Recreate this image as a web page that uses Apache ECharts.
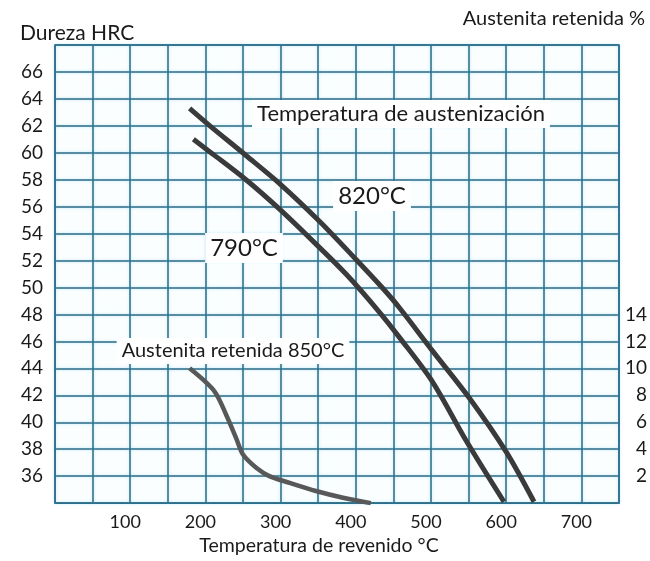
<!DOCTYPE html>
<html>
<head>
<meta charset="utf-8">
<script src="https://cdn.jsdelivr.net/npm/echarts@6/dist/echarts.min.js"></script>
<style>
  html, body { margin: 0; padding: 0; background: #ffffff; }
  #chart { width: 650px; height: 561px; }
</style>
</head>
<body>
<div id="chart"></div>
<script>
// Hardness (HRC) versus tempering temperature (°C) for two austenitizing temperatures
const hrc820 = [[179, 63.3], [206, 62.0], [254, 59.8], [299, 57.7], [352, 54.9], [400, 52.1],
                [435, 50.0], [458, 48.5], [502, 45.3], [551, 41.8], [600, 37.8], [637, 34.1]];
const hrc790 = [[184, 61.0], [210, 59.9], [254, 58.0], [299, 55.8], [342, 53.5], [387, 51.0],
                [431, 48.2], [458, 46.3], [502, 43.0], [546, 38.7], [597, 34.1]];
// Retained austenite (%) after austenitizing at 850 °C, right-hand axis
const austenite850 = [[179, 10.0], [212, 8.3], [228, 6.5], [241, 4.8], [250, 3.6], [268, 2.6],
                      [285, 2.0], [312, 1.5], [347, 0.9], [383, 0.4], [420, 0.0]];

// Tick labels shown on each axis
const xTickLabels = [100, 200, 300, 400, 500, 600, 700];
const hrcTickLabels = [36, 38, 40, 42, 44, 46, 48, 50, 52, 54, 56, 58, 60, 62, 64, 66];
const austeniteTickLabels = [2, 4, 6, 8, 10, 12, 14];

const FONT = 'Lato';
const INK = '#1a1a1a';
const gridColor = '#2a6a85';
const glow = { shadowColor: 'rgba(110, 205, 235, 0.55)', shadowBlur: 3 };

const chart = echarts.init(document.getElementById('chart'), null, { renderer: 'canvas' });

function note(text, x, y, size) {
  return {
    type: 'text', x: x, y: y, z: 10,
    style: {
      text: text, font: size + 'px ' + FONT, fill: INK,
      align: 'center', verticalAlign: 'middle',
      backgroundColor: '#ffffff', padding: [3, 5]
    }
  };
}

const option = {
  backgroundColor: '#ffffff',
  animation: false,
  textStyle: { fontFamily: FONT, color: INK },
  grid: {
    left: 55, right: 30, top: 45, bottom: 56,
    show: true, borderColor: gridColor, borderWidth: 1.6,
    backgroundColor: '#fbfeff'
  },
  xAxis: {
    type: 'value', min: 0, max: 750, interval: 50,
    name: 'Temperatura de revenido °C',
    nameLocation: 'middle', nameGap: 32,
    nameTextStyle: { fontFamily: FONT, fontSize: 19.5, color: INK, padding: [0, 36, 0, 0] },
    axisLine: { show: false }, axisTick: { show: false },
    axisLabel: {
      margin: 10, fontFamily: FONT, fontSize: 18, color: INK, padding: [0, 10, 0, 0],
      formatter: v => (xTickLabels.indexOf(v) >= 0 ? String(v) : '')
    },
    splitLine: { show: true, lineStyle: Object.assign({ color: gridColor, width: 1.5 }, glow) }
  },
  yAxis: [
    {
      type: 'value', min: 34, max: 68, interval: 2, position: 'left',
      axisLine: { show: false }, axisTick: { show: false },
      axisLabel: {
        margin: 12, fontFamily: FONT, fontSize: 19, color: INK,
        formatter: v => (hrcTickLabels.indexOf(v) >= 0 ? String(v) : '')
      },
      splitLine: { show: true, lineStyle: Object.assign({ color: gridColor, width: 1.5 }, glow) }
    },
    {
      type: 'value', min: 0, max: 34, interval: 2, position: 'right',
      axisLine: { show: false }, axisTick: { show: false },
      axisLabel: {
        margin: 28, align: 'right', fontFamily: FONT, fontSize: 19, color: INK,
        formatter: v => (austeniteTickLabels.indexOf(v) >= 0 ? String(v) : '')
      },
      splitLine: { show: false }
    }
  ],
  series: [
    {
      name: '820°C', type: 'line', data: hrc820, yAxisIndex: 0,
      showSymbol: false, smooth: 0.3,
      lineStyle: { color: '#3a3a3a', width: 5 }
    },
    {
      name: '790°C', type: 'line', data: hrc790, yAxisIndex: 0,
      showSymbol: false, smooth: 0.3,
      lineStyle: { color: '#3a3a3a', width: 5 }
    },
    {
      name: 'Austenita retenida 850°C', type: 'line', data: austenite850, yAxisIndex: 1,
      showSymbol: false, smooth: 0.3,
      lineStyle: { color: '#585858', width: 4.5 }
    }
  ],
  graphic: [
    { type: 'text', left: 20, top: 23, style: { text: 'Dureza HRC', font: '21px ' + FONT, fill: INK } },
    { type: 'text', right: 5, top: 9, style: { text: 'Austenita retenida %', font: '20px ' + FONT, fill: INK } },
    note('Temperatura de austenización', 401, 114, 22),
    note('820°C', 372, 196, 24),
    note('790°C', 244, 248, 24),
    note('Austenita retenida 850°C', 233, 351, 20)
  ]
};

chart.setOption(option);
</script>
</body>
</html>
